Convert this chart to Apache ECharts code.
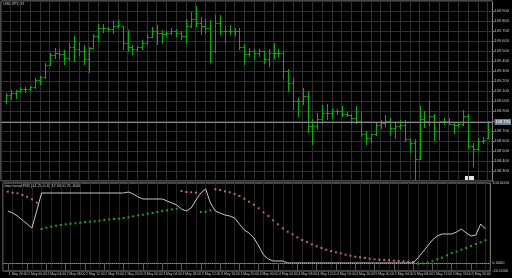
<!DOCTYPE html>
<html><head><meta charset="utf-8"></head>
<body style="margin:0;background:#000">
<div id="c" style="width:512px;height:278px"></div>
<script src="https://cdn.jsdelivr.net/npm/echarts@6/dist/echarts.min.js"></script>
<script>
var symbolTitle = 'USDJPY,H1';
var indicatorTitle = 'Directional RSI (14,20,0.4) 42.5000 28.4000';
var tickLabels = ['1 May 20:00','2 May 00:00','2 May 04:00','2 May 08:00','2 May 12:00','2 May 16:00','2 May 20:00','3 May 00:00','3 May 04:00','3 May 08:00','3 May 12:00','3 May 16:00','3 May 20:00','4 May 00:00','4 May 04:00','4 May 08:00','4 May 12:00','4 May 16:00','4 May 20:00','5 May 00:00','5 May 04:00','5 May 08:00','5 May 12:00','5 May 16:00','5 May 20:00'];

var priceOpen = [109.00,109.06,109.08,109.10,109.12,109.12,109.14,109.21,109.24,109.36,
109.46,109.48,109.47,109.43,109.54,109.52,109.50,109.42,109.53,109.65,
109.73,109.73,109.72,109.75,109.75,109.58,109.54,109.52,109.54,109.58,
109.64,109.70,109.68,109.67,109.68,109.70,109.68,109.65,109.75,109.82,
109.78,109.75,109.73,109.50,109.78,109.70,109.70,109.70,109.70,109.54,
109.47,109.50,109.48,109.50,109.42,109.48,109.48,109.48,109.30,109.18,
109.00,109.00,109.05,108.75,108.75,108.82,108.88,108.88,108.90,108.90,
108.87,108.86,108.83,108.80,108.67,108.63,108.67,108.76,108.78,108.80,
108.73,108.75,108.76,108.62,108.58,108.42,108.82,108.80,108.85,108.70,
108.80,108.80,108.77,108.76,108.77,108.85,108.55,108.52,108.60,108.63];
var priceHigh = [109.08,109.11,109.11,109.14,109.14,109.15,109.23,109.25,109.38,109.48,
109.53,109.52,109.51,109.58,109.65,109.59,109.56,109.54,109.67,109.77,
109.77,109.74,109.80,109.81,109.75,109.71,109.56,109.55,109.61,109.67,
109.74,109.76,109.71,109.70,109.73,109.72,109.70,109.82,109.89,109.95,
109.84,109.82,109.81,109.86,109.86,109.75,109.76,109.73,109.73,109.57,
109.53,109.52,109.52,109.50,109.52,109.58,109.52,109.50,109.32,109.23,
109.03,109.13,109.10,108.82,108.88,108.96,108.97,108.93,108.92,108.95,
108.89,108.87,108.95,108.89,108.70,108.67,108.79,108.81,108.86,108.83,
108.79,108.81,108.81,108.62,108.62,108.95,108.90,109.00,108.87,108.78,
108.83,108.83,108.78,108.78,108.91,108.87,108.58,108.63,108.64,108.80];
var priceLow = [108.98,109.02,109.03,109.09,109.09,109.11,109.13,109.17,109.23,109.36,
109.43,109.43,109.37,109.41,109.40,109.46,109.37,109.29,109.53,109.60,
109.69,109.70,109.68,109.74,109.52,109.50,109.47,109.50,109.52,109.57,
109.64,109.57,109.58,109.65,109.67,109.65,109.62,109.58,109.74,109.75,
109.67,109.68,109.39,109.49,109.67,109.59,109.67,109.66,109.52,109.37,
109.45,109.42,109.45,109.38,109.35,109.43,109.45,109.23,109.10,108.92,
108.85,108.97,108.69,108.57,108.72,108.78,108.82,108.83,108.87,108.85,
108.85,108.78,108.78,108.65,108.57,108.59,108.66,108.73,108.75,108.66,
108.63,108.72,108.60,108.49,108.22,108.42,108.74,108.76,108.61,108.62,
108.77,108.77,108.68,108.75,108.76,108.53,108.35,108.51,108.58,108.63];
var priceClose = [109.06,109.08,109.10,109.12,109.12,109.14,109.21,109.24,109.36,109.46,
109.48,109.47,109.43,109.54,109.52,109.50,109.42,109.53,109.65,109.73,
109.73,109.72,109.75,109.76,109.58,109.54,109.52,109.54,109.58,109.64,
109.70,109.68,109.67,109.68,109.70,109.68,109.65,109.75,109.82,109.78,
109.75,109.73,109.50,109.78,109.70,109.70,109.70,109.70,109.54,109.47,
109.50,109.48,109.50,109.42,109.48,109.48,109.48,109.30,109.18,109.00,
109.00,109.05,108.75,108.75,108.82,108.88,108.88,108.90,108.90,108.87,
108.86,108.83,108.80,108.67,108.63,108.67,108.76,108.78,108.80,108.73,
108.75,108.76,108.62,108.58,108.42,108.82,108.80,108.85,108.70,108.80,
108.80,108.77,108.76,108.77,108.85,108.55,108.52,108.60,108.61,108.79];

var rsiLine = [65,62.5,58.75,53.75,48.75,43.75,65.5,87.5,87.5,87.5,
87.5,87.5,87.5,87.5,87.5,87.5,87.5,87.5,87.5,87.5,
87.5,87.5,87.5,87.5,87.5,88.75,86.25,82.5,80,80,
80,80,80,77.5,75,72.5,67.5,65,68.75,78.75,
87.5,92.5,75,65,62.5,60,58.75,56.25,48.75,41.25,
37.5,31.25,21.25,10,5,2.5,2.5,2.5,0,0,
0,0,0,0,0,0,0,0,0,0,
0,0,0,0,0,0,0,0,0,0,
0,0,0,0,0,6.25,13.75,21.25,28.75,33.75,
36.25,36.25,36.25,38.75,42.5,37.5,33.75,35,48.75,42.5];
var dotsUpper = [89.2,87.9,87.1,85,82.9,79.6,75.4,null,null,null,
null,null,null,null,null,null,null,null,null,null,
null,null,null,null,null,null,null,null,null,null,
null,null,null,null,null,null,90,88.75,88.4,87.9,
null,null,null,92.1,91.25,89.6,88.4,86.25,83.75,80.4,
76.6,72.9,68.4,63.4,58.75,53.4,48.4,43.4,39.1,35.9,
32.1,28.75,26.25,23.4,20.9,18.75,16.6,15,13.4,12.1,
10.4,9.1,7.9,7.1,6.25,5.4,4.6,4.1,3.75,3.4,
2.9,2.5,2.1,1.6,1.25,null,null,null,null,null,
null,null,null,null,null,null,null,null,null,null];
var dotsLower = [null,null,null,null,null,null,null,42.5,44.1,45.4,
46.6,47.5,48.4,49.1,49.6,50.4,51.25,51.6,52.1,52.9,
53.75,54.6,55,55.4,56.25,57.1,58.4,59.6,60.4,61.6,
62.5,63.75,65,65.9,67.1,67.9,null,null,null,null,
63.75,64.1,65.9,null,null,null,null,null,null,null,
null,null,null,null,null,null,null,null,null,null,
null,null,null,null,null,null,null,null,null,null,
null,null,null,null,null,null,null,null,null,null,
null,null,null,null,null,-0.9,-0.4,0.4,2.1,4.6,
6.6,9.6,12.5,14.1,16.6,18.75,21.25,23.75,25.9,28.4];

var FONT = 'Liberation Sans, Arial, sans-serif';
var n = priceClose.length;
var cats = [];
for (var k = 0; k < n + 2; k++) cats.push(String(k));
function timeLabel(v, idx) {
  var i = idx - 1;
  if (i >= 0 && i % 4 === 0 && tickLabels[i / 4]) return tickLabels[i / 4];
  return '';
}
var ohlc = [], rsiData = [], upData = [], loData = [];
for (var i = 0; i < n; i++) {
  ohlc.push([i + 1, priceOpen[i], priceClose[i], priceLow[i], priceHigh[i]]);
  rsiData.push([i + 1, rsiLine[i]]);
  if (dotsUpper[i] != null) upData.push([i + 1, dotsUpper[i]]);
  if (dotsLower[i] != null) loData.push([i + 1, dotsLower[i]]);
}
function renderOHLC(params, api) {
  var k = api.value(0);
  var o = api.coord([k, api.value(1)]);
  var c = api.coord([k, api.value(2)]);
  var l = api.coord([k, api.value(3)]);
  var h = api.coord([k, api.value(4)]);
  var x = Math.round(o[0]) + 0.5;
  var st = { stroke: '#00b400', lineWidth: 1 };
  var oy = Math.round(o[1]) + 0.5, cy = Math.round(c[1]) + 0.5;
  return { type: 'group', children: [
    { type: 'line', shape: { x1: x, y1: Math.round(h[1]), x2: x, y2: Math.round(l[1]) + 1 }, style: st },
    { type: 'line', shape: { x1: x - 2, y1: oy, x2: x, y2: oy }, style: st },
    { type: 'line', shape: { x1: x, y1: cy, x2: x + 2, y2: cy }, style: st }
  ]};
}
var gridLine = { show: true, lineStyle: { color: '#303030', width: 1 } };
var chart = echarts.init(document.getElementById('c'), null, { renderer: 'canvas' });
chart.setOption({
  backgroundColor: '#000000',
  animation: false,
  textStyle: { fontFamily: FONT },
  grid: [
    { left: 1, right: 17, top: 1, height: 180, show: true, borderColor: '#8c8c8c', borderWidth: 1, backgroundColor: 'transparent' },
    { left: 1, right: 17, top: 183, height: 88, show: true, borderColor: '#8c8c8c', borderWidth: 1, backgroundColor: 'transparent' }
  ],
  xAxis: [
    { type: 'category', gridIndex: 0, data: cats, boundaryGap: false,
      axisLine: { show: false }, axisTick: { show: false }, axisLabel: { show: false },
      splitLine: { show: true, interval: function (idx) { return idx % 2 === 0; }, lineStyle: { color: '#303030' } } },
    { type: 'category', gridIndex: 1, data: cats, boundaryGap: false,
      axisLine: { show: true, lineStyle: { color: '#8c8c8c' } },
      axisTick: { show: true, length: 7, interval: function (idx) { return (idx - 1) % 4 === 0 && idx > 0; }, lineStyle: { color: '#5a5a5a' } },
      axisLabel: { show: true, interval: 0, formatter: timeLabel, color: '#c8c8c8', fontSize: 3.4, align: 'left', margin: 2, padding: [0, 0, 0, 1] },
      splitLine: { show: true, interval: function (idx) { return idx % 2 === 0; }, lineStyle: { color: '#242424' } } }
  ],
  yAxis: [
    { type: 'value', gridIndex: 0, position: 'right', min: 108.2, max: 110.0, interval: 0.1,
      axisLine: { show: false }, axisTick: { show: true, length: 2, lineStyle: { color: '#8c8c8c' } },
      axisLabel: { color: '#c8c8c8', fontSize: 4, margin: 2, showMinLabel: false, showMaxLabel: false,
        formatter: function (v) { return v.toFixed(3); } },
      splitLine: gridLine },
    { type: 'value', gridIndex: 1, position: 'right', min: -10, max: 100, interval: 10,
      axisLine: { show: false }, axisTick: { show: false },
      axisLabel: { color: '#c8c8c8', fontSize: 4, margin: 2,
        formatter: function (v) { return v === 100 ? '100.0000' : (v === 0 ? '0.0000' : (v === -10 ? '-10.0000' : '')); } },
      splitLine: { show: false } }
  ],
  series: [
    { type: 'custom', xAxisIndex: 0, yAxisIndex: 0, data: ohlc, renderItem: renderOHLC,
      encode: { x: 0, y: [1, 2, 3, 4] }, clip: true,
      markLine: { silent: true, symbol: ['none', 'none'],
        lineStyle: { color: '#8c8c8c', width: 1, type: 'solid' },
        label: { show: true, position: 'end', distance: 2, formatter: function (p) { return p.value.toFixed(3); },
          color: '#ffffff', backgroundColor: '#6f8090', fontSize: 4, padding: [1, 1, 1, 1] },
        data: [{ yAxis: priceClose[n - 1] }] } },
    { type: 'line', xAxisIndex: 1, yAxisIndex: 1, data: rsiData, symbol: 'none',
      lineStyle: { color: '#c8c8c8', width: 1 },
      markLine: { silent: true, symbol: ['none', 'none'], label: { show: false },
        lineStyle: { color: '#5a5a5a', width: 1, type: 'dotted' }, data: [{ yAxis: 0 }] } },
    { type: 'scatter', xAxisIndex: 1, yAxisIndex: 1, data: upData, symbol: 'rect', symbolSize: 2,
      itemStyle: { color: '#f07890' } },
    { type: 'scatter', xAxisIndex: 1, yAxisIndex: 1, data: loData, symbol: 'rect', symbolSize: 2,
      itemStyle: { color: '#1ec81e' } }
  ],
  graphic: [
    { type: 'text', left: 3, top: 2, style: { text: symbolTitle, fill: '#d0d0d0', font: '4px ' + FONT } },
    { type: 'text', left: 3, top: 184, style: { text: indicatorTitle, fill: '#d0d0d0', font: '4px ' + FONT } },
    { type: 'rect', left: 465, top: 176, shape: { width: 9, height: 4 }, style: { fill: '#e6e6e6' } }
  ]
});
</script>
</body></html>
